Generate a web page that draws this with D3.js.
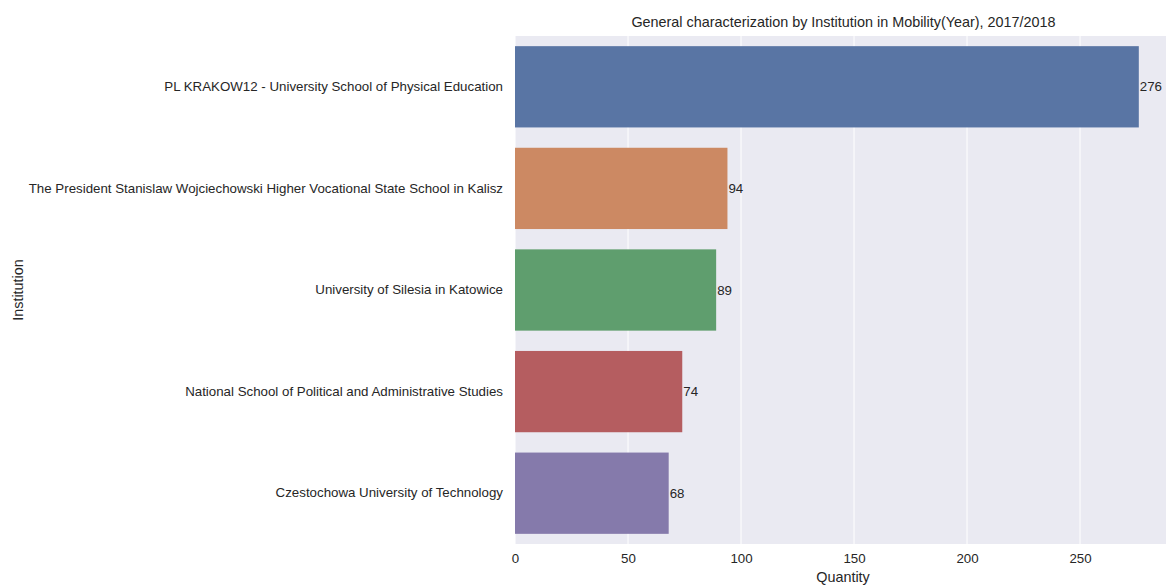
<!DOCTYPE html>
<html><head><meta charset="utf-8">
<script src="https://cdn.jsdelivr.net/npm/d3@7"></script>
<style>body{margin:0;background:#fff;} text{font-family:"Liberation Sans",Arial,sans-serif;}</style>
</head><body>
<svg id="c" width="1166" height="586"></svg>
<script>
const institutions = [
  "PL KRAKOW12 - University School of Physical Education",
  "The President Stanislaw Wojciechowski Higher Vocational State School in Kalisz",
  "University of Silesia in Katowice",
  "National School of Political and Administrative Studies",
  "Czestochowa University of Technology"
];
const quantities = [276, 94, 89, 74, 68];
const colors = ["#5975a4", "#cc8963", "#5f9e6e", "#b55d60", "#857aab"];
const xTicks = [0, 50, 100, 150, 200, 250];

const svg = d3.select("#c");
const m = {left: 515, right: 1170, top: 36, bottom: 544};
const x = d3.scaleLinear().domain([0, 276 * 1.05]).range([m.left, m.right]);
const y = d3.scaleBand().domain(institutions).range([m.top, m.bottom]).paddingInner(0.2).paddingOuter(0.1);

svg.append("rect").attr("x", m.left).attr("y", m.top).attr("width", m.right - m.left).attr("height", m.bottom - m.top).attr("fill", "#eaeaf2");

svg.append("g").selectAll("line").data(xTicks).join("line")
  .attr("x1", d => x(d)).attr("x2", d => x(d)).attr("y1", m.top).attr("y2", m.bottom)
  .attr("stroke", "#fff").attr("stroke-width", 1);

svg.append("g").selectAll("rect").data(quantities).join("rect")
  .attr("x", x(0)).attr("y", (d, i) => y(institutions[i]))
  .attr("width", d => x(d) - x(0)).attr("height", y.bandwidth())
  .attr("fill", (d, i) => colors[i]);

svg.append("g").selectAll("text").data(quantities).join("text")
  .attr("x", d => x(d) + 1).attr("y", (d, i) => y(institutions[i]) + y.bandwidth() / 2)
  .attr("dy", "0.35em").attr("font-size", 13.3).attr("fill", "#262626").text(d => d);

const xa = svg.append("g").attr("transform", `translate(0,${m.bottom})`)
  .call(d3.axisBottom(x).tickValues(xTicks).tickSize(0).tickPadding(10));
xa.select(".domain").remove();
xa.selectAll("text").attr("font-size", 13.3).attr("fill", "#262626").style("font-family", "Liberation Sans, Arial, sans-serif");

const ya = svg.append("g").attr("transform", `translate(${m.left},0)`)
  .call(d3.axisLeft(y).tickSize(0).tickPadding(12));
ya.select(".domain").remove();
ya.selectAll("text").attr("font-size", 13.3).attr("fill", "#262626").style("font-family", "Liberation Sans, Arial, sans-serif");

svg.append("text").attr("x", (m.left + m.right) / 2 + 1).attr("y", 27).attr("text-anchor", "middle")
  .attr("font-size", 14.4).attr("fill", "#262626").text("General characterization by Institution in Mobility(Year), 2017/2018");
svg.append("text").attr("x", 843).attr("y", 582).attr("text-anchor", "middle")
  .attr("font-size", 14.4).attr("fill", "#262626").text("Quantity");
svg.append("text").attr("transform", "translate(23,290) rotate(-90)").attr("text-anchor", "middle")
  .attr("font-size", 14.4).attr("fill", "#262626").text("Institution");
</script>
</body></html>
